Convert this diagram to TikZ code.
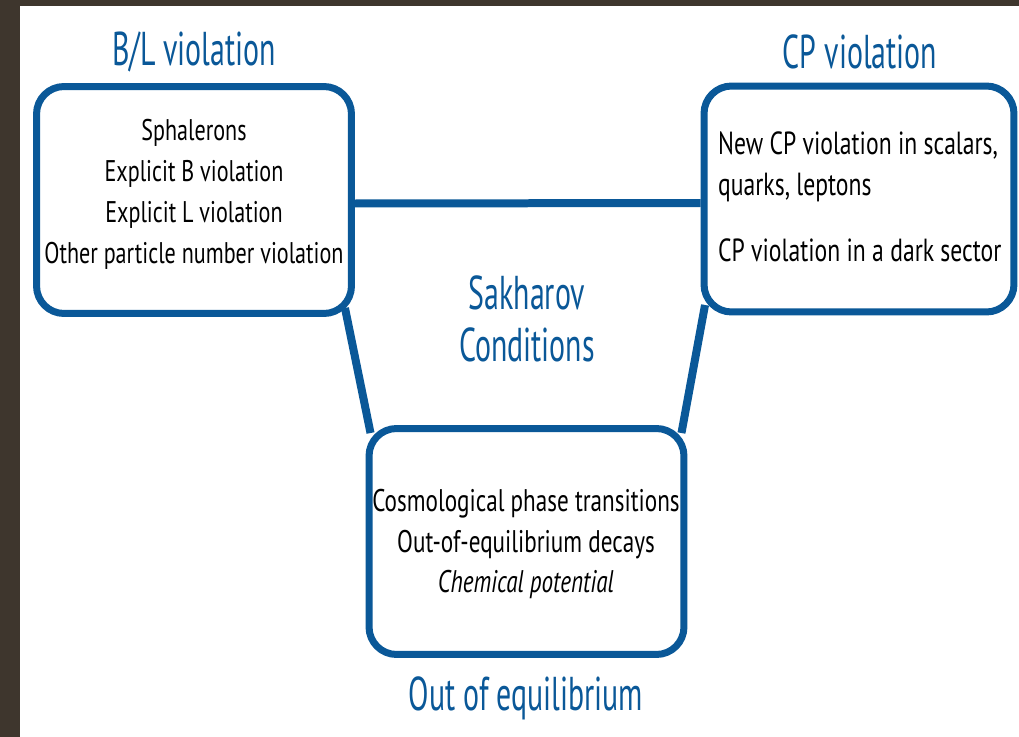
\documentclass[tikz,border=0pt]{standalone}
\usepackage{fontspec}
\setmainfont{PT Sans}[FakeStretch=0.74]
\newfontfamily\titlefont{PT Sans}[FakeStretch=0.63]
\usetikzlibrary{backgrounds}
\definecolor{sakblue}{RGB}{10,88,152}
\definecolor{framebrown}{RGB}{62,54,45}
\tikzset{
  condbox/.style={draw=sakblue, line width=0.14cm, rounded corners=0.55cm, fill=white,
    minimum width=6.3cm, minimum height=4.54cm, inner sep=0pt},
  condtitle/.style={text=sakblue, font=\titlefont\fontsize{27}{30}\selectfont, align=center},
  condtext/.style={font=\fontsize{17}{23.3}\selectfont},
  link/.style={draw=sakblue, line width=0.16cm}
}
\begin{document}
\begin{tikzpicture}[x=0.02cm,y=-0.02cm]
  % frame
  \begin{scope}[on background layer]
    \fill[framebrown] (0,0) rectangle (1019,737);
    \fill[white] (20,6) rectangle (1019,737);
  \end{scope}
  \useasboundingbox (0,0) rectangle (1019,737);
  % boxes
  \node[condbox] (bl) at (194,200) {};
  \node[condbox, minimum width=6.2cm, minimum height=4.52cm] (cp) at (859,199) {};
  \node[condbox, minimum height=4.52cm] (oe) at (526.5,541.5) {};
  % lines
  \begin{scope}[on background layer]
    \draw[link] ([yshift=-0.07cm]bl.east) -- ([yshift=-0.08cm]cp.west);
    \draw[link] ([xshift=-0.2cm,yshift=0.18cm]bl.south east) -- ([xshift=0.1cm,yshift=-0.16cm]oe.north west);
    \draw[link] ([xshift=0.09cm,yshift=0.21cm]cp.south west) -- ([xshift=-0.12cm,yshift=-0.16cm]oe.north east);
  \end{scope}
  % titles
  \node[condtitle] (bltitle) at (194,52) {B/L violation};
  \node[condtitle] (cptitle) at (860,52) {CP violation};
  \node[condtitle] (sakharov) at (527,319) {Sakharov\\Conditions};
  \node[condtitle] (oetitle) at (526,698) {Out of equilibrium};
  % box texts
  \node[condtext, align=center] (bltext) at (194,194) {Sphalerons\\Explicit B violation\\Explicit L violation\\Other particle number violation};
  \node[condtext, font=\fontsize{18.2}{23.3}\selectfont, align=left, anchor=west] (cptext) at (712,197) {New CP violation in scalars,\\quarks, leptons\\[14pt]CP violation in a dark sector};
  \node[condtext, font=\fontsize{17.8}{23.3}\selectfont, align=center] (oetext) at (526,544) {Cosmological phase transitions\\Out-of-equilibrium decays\\\textit{Chemical potential}};
\end{tikzpicture}
\end{document}
